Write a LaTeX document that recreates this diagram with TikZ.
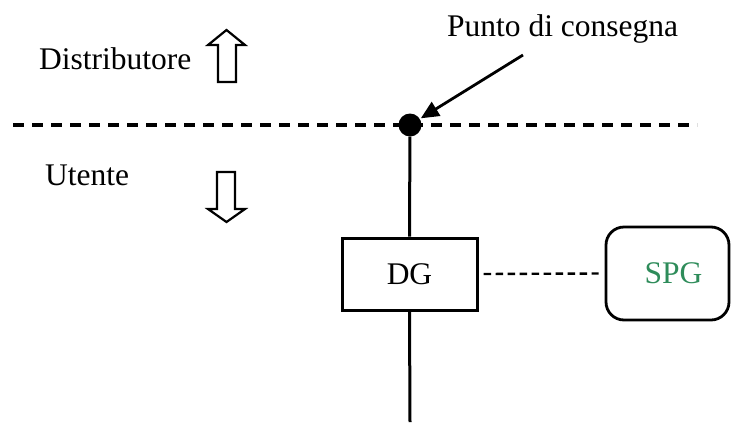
\documentclass[tikz,border=0pt]{standalone}
\usepackage{fontspec}
\setmainfont{Liberation Serif}
\usetikzlibrary{arrows.meta}
\definecolor{spggreen}{RGB}{46,140,90}
\tikzset{
  lbl/.style={inner sep=0pt, font=\fontsize{31.5}{36}\selectfont},
  box/.style={draw, line width=3pt, minimum width=135pt, minimum height=72pt, inner sep=0pt, font=\fontsize{31.5}{36}\selectfont},
  roundbox/.style={draw, line width=2.8pt, rounded corners=18pt, minimum width=123pt, minimum height=93pt, inner sep=0pt, text=spggreen, font=\fontsize{31.5}{36}\selectfont},
  blockarrow/.style={draw, line width=2.2pt, fill=white, line join=miter},
  mainline/.style={line width=3pt},
}
\begin{document}
\begin{tikzpicture}[x=1pt,y=-1pt]
\useasboundingbox (0,0) rectangle (731,424);
% boundary dashed line
\coordinate (dl) at (13,125);
\coordinate (dr) at (697,125);
\draw[line width=3.2pt, dash pattern=on 11pt off 8pt] (dl) -- (dr);
% labels
\node[lbl, anchor=base west] (distr) at (39,69) {Distributore};
\node[lbl, anchor=base west] (ut) at (45,185) {Utente};
\node[lbl, anchor=base west] (pc) at (447,36) {Punto di consegna};
% block arrows
\draw[blockarrow] (218,82) -- (218,45) -- (208,45) -- (226.5,30) -- (245,45) -- (236,45) -- (236,82) -- cycle;
\draw[blockarrow] (217,172) -- (217,209) -- (208,209) -- (226.5,222) -- (245,209) -- (235,209) -- (235,172) -- cycle;
% nodes
\node[circle, fill=black, minimum size=23pt, inner sep=0pt] (pd) at (410,125) {};
\node[box] (dg) at (409.5,274) {DG};
\node[roundbox] (spg) at (667.5,273.5) {\hspace*{12pt}SPG};
\coordinate (bot) at (410,422);
\coordinate (arrstart) at (523,55);
% connectors
\draw[mainline] (pd) -- (dg.north);
\draw[mainline] (dg.south) -- (bot);
\draw[line width=2.4pt, dash pattern=on 7.5pt off 4.5pt] ([xshift=5pt]dg.east) -- ([xshift=-6pt]spg.west);
\draw[line width=2.8pt, -{Triangle[length=18pt,width=16pt]}, shorten >=1pt] (arrstart) -- (pd);
\end{tikzpicture}
\end{document}
